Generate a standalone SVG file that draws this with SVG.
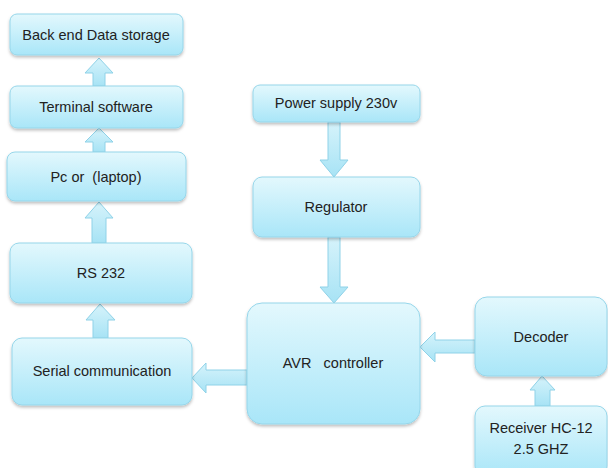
<svg xmlns="http://www.w3.org/2000/svg" width="608" height="468" viewBox="0 0 608 468">
<defs>
<linearGradient id="g" x1="0" y1="0" x2="0" y2="1">
<stop offset="0" stop-color="#e3f8fd"/>
<stop offset="1" stop-color="#a9e6f8"/>
</linearGradient>
<linearGradient id="ga" x1="0" y1="0" x2="0" y2="1">
<stop offset="0" stop-color="#d6f3fb"/>
<stop offset="1" stop-color="#a7e3f5"/>
</linearGradient>
<filter id="sh" x="-10%" y="-10%" width="120%" height="130%">
<feDropShadow dx="0" dy="2" stdDeviation="1.5" flood-color="#000" flood-opacity="0.25"/>
</filter>
</defs>
<style>
.n{fill:url(#g);stroke:#96d6ea;stroke-width:1;filter:url(#sh)}
.a{fill:url(#ga);stroke:#8fd2e8;stroke-width:1}
text{font-family:"Liberation Sans",Arial,sans-serif;font-size:14.5px;fill:#222;text-anchor:middle}
</style>
<rect width="608" height="468" fill="#fff"/>
<g id="connectors">
<path class="a" d="M93,86 V73 H85 L99,58 L113,73 H105 V86 Z"/>
<path class="a" d="M93,152 V142 H85 L99,128 L113,142 H105 V152 Z"/>
<path class="a" d="M92,243 V218 H85 L99,202 L113,218 H106 V243 Z"/>
<path class="a" d="M93,338 V320 H86 L100,304 L115,320 H108 V338 Z"/>
<path class="a" d="M247,370 H206 V363 L192,378 L206,393 V385 H247 Z"/>
<path class="a" d="M475,340 H435 V332 L420,347 L435,362 V353 H475 Z"/>
<path class="a" d="M535,406 V390 H530 L542,376 L555,390 H550 V406 Z"/>
<path class="a" d="M328,122 V160 H320 L334,177 L348,160 H340 V122 Z"/>
<path class="a" d="M328,237 V287 H320 L334,303 L348,287 H340 V237 Z"/>
</g>
<g id="backend"><rect class="n" x="10" y="14" width="173" height="41" rx="7"/><text x="96" y="40">Back end Data storage</text></g>
<g id="terminal"><rect class="n" x="10" y="86" width="173" height="42" rx="7"/><text x="96" y="112">Terminal software</text></g>
<g id="pc"><rect class="n" x="7" y="152" width="179" height="49" rx="8"/><text x="96" y="182" xml:space="preserve">Pc or  (laptop)</text></g>
<g id="rs232"><rect class="n" x="10" y="243" width="182" height="60" rx="9"/><text x="101" y="278">RS 232</text></g>
<g id="serial"><rect class="n" x="12" y="338" width="180" height="67" rx="10"/><text x="102" y="376">Serial communication</text></g>
<g id="power"><rect class="n" x="253" y="85" width="167" height="37" rx="7"/><text x="336" y="108">Power supply 230v</text></g>
<g id="regulator"><rect class="n" x="253" y="177" width="167" height="60" rx="9"/><text x="336" y="212">Regulator</text></g>
<g id="avr"><rect class="n" x="247" y="303" width="173" height="121" rx="15"/><text x="333" y="368" xml:space="preserve">AVR   controller</text></g>
<g id="decoder"><rect class="n" x="475" y="297" width="132" height="79" rx="12"/><text x="541" y="342">Decoder</text></g>
<g id="receiver"><rect class="n" x="475" y="406" width="132" height="70" rx="10"/><text x="541" y="433">Receiver HC-12</text><text x="541" y="454">2.5 GHZ</text></g>
</svg>
